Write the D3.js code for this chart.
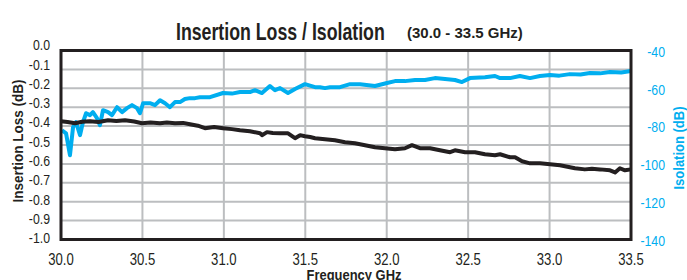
<!DOCTYPE html>
<html>
<head>
<meta charset="utf-8">
<script src="https://cdn.jsdelivr.net/npm/d3@7"></script>
<style>
  html, body { margin: 0; padding: 0; background: #fff; }
  svg { display: block; }
  text { font-family: "Liberation Sans Narrow", "Arial Narrow", "Liberation Sans", Arial, sans-serif; }
</style>
</head>
<body>
<div id="chart"></div>
<script>
// Insertion loss / isolation, 30.0 - 33.5 GHz

const xTicks = [30.0, 30.5, 31.0, 31.5, 32.0, 32.5, 33.0, 33.5];
const lossTicks = [0.0, -0.1, -0.2, -0.3, -0.4, -0.5, -0.6, -0.7, -0.8, -0.9, -1.0];
const isoTicks = [-40, -60, -80, -100, -120, -140];

// insertion loss (black, left axis)
const lossFreq = [30.00, 30.04, 30.086, 30.13, 30.178, 30.23, 30.289, 30.34, 30.393, 30.45, 30.497, 30.55,
  30.608, 30.65, 30.70, 30.75, 30.792, 30.84, 30.884, 30.94, 30.995, 31.05, 31.099, 31.16, 31.222, 31.234,
  31.265, 31.30, 31.345, 31.394, 31.437, 31.468, 31.498, 31.53, 31.56, 31.621, 31.682, 31.744, 31.805,
  31.867, 31.928, 31.989, 32.051, 32.112, 32.155, 32.204, 32.266, 32.327, 32.389, 32.419, 32.481, 32.542,
  32.603, 32.665, 32.696, 32.757, 32.788, 32.831, 32.88, 32.941, 33.003, 33.064, 33.125, 33.156, 33.217,
  33.26, 33.31, 33.371, 33.402, 33.432, 33.463, 33.50];
const lossVals = [-0.374, -0.378, -0.385, -0.377, -0.374, -0.378, -0.369, -0.373, -0.369, -0.376, -0.385, -0.381,
  -0.385, -0.381, -0.385, -0.383, -0.390, -0.398, -0.411, -0.405, -0.411, -0.416, -0.422, -0.427, -0.438, -0.448,
  -0.432, -0.437, -0.438, -0.438, -0.464, -0.448, -0.454, -0.458, -0.464, -0.469, -0.475, -0.485, -0.491,
  -0.501, -0.512, -0.517, -0.523, -0.517, -0.501, -0.517, -0.517, -0.528, -0.538, -0.528, -0.538, -0.538,
  -0.549, -0.554, -0.549, -0.565, -0.565, -0.586, -0.597, -0.597, -0.602, -0.607, -0.618, -0.623, -0.629,
  -0.626, -0.629, -0.634, -0.645, -0.623, -0.634, -0.629];

// isolation (blue, right axis)
const isoFreq = [30.006, 30.031, 30.055, 30.074, 30.092, 30.117, 30.135, 30.154, 30.178, 30.196, 30.221, 30.239,
  30.258, 30.289, 30.313, 30.344, 30.375, 30.405, 30.436, 30.467, 30.485, 30.504, 30.546, 30.577, 30.608,
  30.639, 30.669, 30.70, 30.731, 30.761, 30.792, 30.823, 30.853, 30.915, 30.995, 31.05, 31.099, 31.16,
  31.191, 31.234, 31.283, 31.314, 31.345, 31.394, 31.437, 31.498, 31.56, 31.59, 31.621, 31.652, 31.713,
  31.775, 31.836, 31.928, 32.002, 32.051, 32.112, 32.174, 32.235, 32.296, 32.358, 32.419, 32.462, 32.511,
  32.603, 32.665, 32.696, 32.757, 32.818, 32.88, 32.941, 33.003, 33.06, 33.125, 33.19, 33.248, 33.31,
  33.371, 33.44, 33.50];
const isoVals = [-82.2, -83.8, -95.4, -80.6, -77.9, -84.8, -77.9, -73.2, -74.2, -72.6, -75.8, -79.5,
  -71.6, -72.6, -74.2, -70.0, -72.6, -70.5, -68.9, -70.5, -73.2, -67.9, -67.9, -68.9, -66.3,
  -67.9, -70.0, -67.3, -67.3, -65.7, -65.2, -65.2, -64.7, -64.7, -62.5, -62.8, -62.0, -62.0,
  -61.0, -62.5, -58.8, -61.0, -59.9, -62.5, -60.4, -57.8, -59.4, -59.4, -59.9, -59.4, -59.4,
  -57.8, -57.8, -58.8, -57.2, -56.2, -56.2, -55.6, -55.6, -54.6, -55.1, -55.6, -56.7, -54.6,
  -54.1, -53.5, -54.6, -54.6, -53.5, -54.6, -53.5, -53.0, -53.3, -52.5, -52.7, -51.9, -52.1,
  -51.4, -51.6, -50.9];

const W = 687, H = 280;
const plot = { left: 61, right: 631, top: 50.5, bottom: 239.5 };
const BLUE = '#00aeef';
const INK = '#231f20';
const GRID = '#bcbec0';
const NARROW = 0.82;   // squeeze to mimic the condensed face

const svg = d3.select('#chart').append('svg')
  .attr('width', W)
  .attr('height', H);

const x = d3.scaleLinear().domain([30, 33.5]).range([plot.left, plot.right]);
const yLoss = d3.scaleLinear().domain([0, -1]).range([plot.top, plot.bottom]);
const yIso = d3.scaleLinear().domain([-40, -140]).range([plot.top, plot.bottom]);
// tick text column sits a touch higher than the gridlines at the top
const yLossLabel = d3.scaleLinear().domain([0, -1]).range([45, 238]);

// Gridlines
svg.append('g').selectAll('line')
  .data(lossTicks.slice(1, -1))
  .enter().append('line')
  .attr('x1', plot.left).attr('x2', plot.right)
  .attr('y1', d => yLoss(d)).attr('y2', d => yLoss(d))
  .attr('stroke', GRID).attr('stroke-width', 2);

svg.append('g').selectAll('line')
  .data(xTicks.slice(1, -1))
  .enter().append('line')
  .attr('y1', plot.top).attr('y2', plot.bottom)
  .attr('x1', d => x(d)).attr('x2', d => x(d))
  .attr('stroke', GRID).attr('stroke-width', 2);

// Series
const isoLine = d3.line().x(d => x(d[0])).y(d => yIso(d[1]));
const lossLine = d3.line().x(d => x(d[0])).y(d => yLoss(d[1]));

svg.append('path')
  .datum(d3.zip(isoFreq, isoVals))
  .attr('d', isoLine)
  .attr('fill', 'none')
  .attr('stroke', BLUE)
  .attr('stroke-width', 4)
  .attr('stroke-linejoin', 'round');

svg.append('path')
  .datum(d3.zip(lossFreq, lossVals))
  .attr('d', lossLine)
  .attr('fill', 'none')
  .attr('stroke', INK)
  .attr('stroke-width', 4)
  .attr('stroke-linejoin', 'round');

// Frame
svg.append('rect')
  .attr('x', plot.left).attr('y', plot.top)
  .attr('width', plot.right - plot.left)
  .attr('height', plot.bottom - plot.top)
  .attr('fill', 'none')
  .attr('stroke', INK)
  .attr('stroke-width', 3);

// Left tick labels
svg.append('g').selectAll('text')
  .data(lossTicks)
  .enter().append('text')
  .attr('transform', d => `translate(50,${yLossLabel(d)}) scale(${NARROW},1)`)
  .attr('dy', '0.35em')
  .attr('text-anchor', 'end')
  .attr('font-size', 15)
  .attr('fill', INK)
  .text(d => d.toFixed(1));

// Right tick labels
svg.append('g').selectAll('text')
  .data(isoTicks)
  .enter().append('text')
  .attr('transform', d => `translate(665,${yIso(d) + 1}) scale(${NARROW},1)`)
  .attr('dy', '0.35em')
  .attr('text-anchor', 'end')
  .attr('font-size', 15)
  .attr('fill', BLUE)
  .text(d => d);

// Bottom tick labels
svg.append('g').selectAll('text')
  .data(xTicks)
  .enter().append('text')
  .attr('transform', d => `translate(${x(d)},265) scale(${NARROW},1)`)
  .attr('text-anchor', 'middle')
  .attr('font-size', 16)
  .attr('fill', INK)
  .text(d => d.toFixed(1));

// squeeze a text to a target width (condensed look) without touching its box
function fitWidth(sel, tx, ty, width) {
  const len = sel.node().getComputedTextLength();
  sel.attr('transform', `translate(${tx},${ty}) scale(${width / len},1)`);
}

// Titles
const title = svg.append('text')
  .attr('font-size', 23)
  .attr('font-weight', 'bold')
  .attr('fill', INK)
  .text('Insertion Loss / Isolation');
fitWidth(title, 176, 40, 209);

const subtitle = svg.append('text')
  .attr('font-size', 14)
  .attr('font-weight', 'bold')
  .attr('fill', INK)
  .text('(30.0 - 33.5 GHz)');
fitWidth(subtitle, 407, 38, 116);

svg.append('text')
  .attr('transform', 'translate(23,141) rotate(-90)')
  .attr('text-anchor', 'middle')
  .attr('font-size', 15)
  .attr('font-weight', 'bold')
  .attr('fill', INK)
  .attr('textLength', 123)
  .attr('lengthAdjust', 'spacingAndGlyphs')
  .text('Insertion Loss (dB)');

svg.append('text')
  .attr('transform', 'translate(684,148) rotate(-90)')
  .attr('text-anchor', 'middle')
  .attr('font-size', 15)
  .attr('font-weight', 'bold')
  .attr('fill', BLUE)
  .attr('textLength', 83)
  .attr('lengthAdjust', 'spacingAndGlyphs')
  .text('Isolation (dB)');

svg.append('text')
  .attr('x', 354).attr('y', 280)
  .attr('text-anchor', 'middle')
  .attr('font-size', 14)
  .attr('font-weight', 'bold')
  .attr('fill', INK)
  .attr('textLength', 95)
  .attr('lengthAdjust', 'spacingAndGlyphs')
  .text('Frequency GHz');
</script>
</body>
</html>
